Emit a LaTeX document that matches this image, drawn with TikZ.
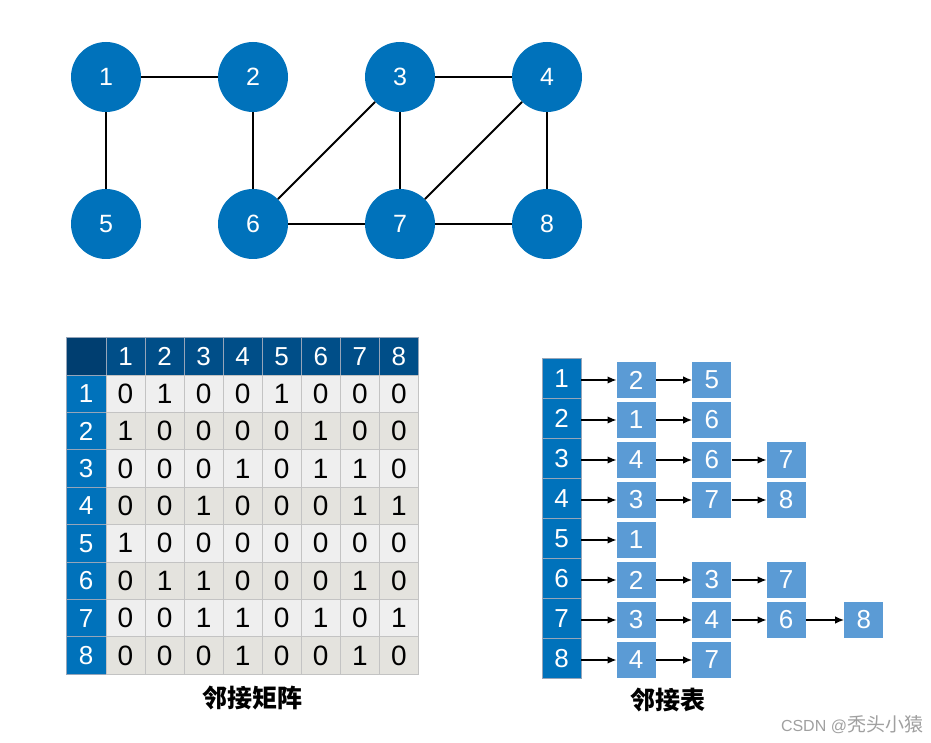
\documentclass[tikz,border=0pt]{standalone}
\usepackage{fontspec}
\setmainfont{Liberation Sans}
\newfontfamily\cjk{Noto Sans CJK SC}
\usetikzlibrary{arrows.meta}
\definecolor{nodeblue}{RGB}{0,114,187}
\definecolor{headblue}{RGB}{0,78,136}
\definecolor{cornerblue}{RGB}{0,62,112}
\definecolor{listblue}{RGB}{91,155,213}
\definecolor{rowa}{RGB}{239,239,239}
\definecolor{rowb}{RGB}{228,227,222}
\definecolor{gridgray}{RGB}{195,195,195}
\definecolor{sepgray}{RGB}{150,165,185}
\definecolor{wmgray}{RGB}{160,160,160}
\tikzset{
  gnode/.style={circle, fill=nodeblue, minimum size=70pt, inner sep=0pt, text=white, font=\fontsize{25}{25}\selectfont},
  gedge/.style={line width=1.9pt, black},
  cell/.style={rectangle, minimum width=39.05pt, minimum height=37.4pt, inner sep=0pt, draw=gridgray, line width=0.8pt, font=\fontsize{28}{28}\selectfont},
  colhead/.style={rectangle, minimum width=39.05pt, minimum height=37.5pt, inner sep=0pt, fill=headblue, draw=sepgray, line width=0.8pt, text=white, font=\fontsize{26}{26}\selectfont},
  rowhead/.style={rectangle, minimum width=40pt, minimum height=37.4pt, inner sep=0pt, fill=nodeblue, draw=sepgray, line width=0.8pt, text=white, font=\fontsize{26}{26}\selectfont},
  lhead/.style={rectangle, minimum width=38.7pt, minimum height=40pt, inner sep=0pt, fill=nodeblue, draw=sepgray, line width=0.8pt, text=white, font=\fontsize{26}{26}\selectfont},
  lbox/.style={rectangle, minimum width=39pt, minimum height=36pt, inner sep=0pt, fill=listblue, text=white, font=\fontsize{26}{26}\selectfont},
  larrow/.style={-{Latex[length=9pt,width=7.5pt]}, line width=1.4pt, black},
  caption/.style={font=\cjk\bfseries\fontsize{25}{25}\selectfont},
}
\begin{document}
\begin{tikzpicture}[x=1pt,y=-1pt]
\useasboundingbox (0,0) rectangle (931,743);
\fill[white] (0,0) rectangle (931,743);
% ---------- graph ----------
\node[gnode] (g1) at (106,77) {1};
\node[gnode] (g2) at (253,77) {2};
\node[gnode] (g3) at (400,77) {3};
\node[gnode] (g4) at (547,77) {4};
\node[gnode] (g5) at (106,224) {5};
\node[gnode] (g6) at (253,224) {6};
\node[gnode] (g7) at (400,224) {7};
\node[gnode] (g8) at (547,224) {8};
\draw[gedge] (g1) -- (g2);
\draw[gedge] (g1) -- (g5);
\draw[gedge] (g2) -- (g6);
\draw[gedge] (g3) -- (g4);
\draw[gedge] (g3) -- (g6);
\draw[gedge] (g3) -- (g7);
\draw[gedge] (g4) -- (g7);
\draw[gedge] (g4) -- (g8);
\draw[gedge] (g6) -- (g7);
\draw[gedge] (g7) -- (g8);
% ---------- adjacency matrix ----------
\node[rectangle, minimum width=40pt, minimum height=37.5pt, inner sep=0pt, fill=cornerblue, draw=sepgray, line width=0.8pt] (corner) at (86,356.25) {};
\foreach \c in {1,...,8} {
  \node[colhead] (h-\c) at ({106+39.05*(\c-0.5)},356.25) {\c};
}
\foreach \r in {1,...,8} {
  \node[rowhead] (r-\r) at (86,{375+37.4*(\r-0.5)}) {\r};
}
\foreach \row [count=\r] in {{0,1,0,0,1,0,0,0},{1,0,0,0,0,1,0,0},{0,0,0,1,0,1,1,0},{0,0,1,0,0,0,1,1},{1,0,0,0,0,0,0,0},{0,1,1,0,0,0,1,0},{0,0,1,1,0,1,0,1},{0,0,0,1,0,0,1,0}} {
  \ifodd\r\relax\def\rc{rowa}\else\def\rc{rowb}\fi
  \foreach \v [count=\c] in \row {
    \node[cell, fill=\rc] (m-\r-\c) at ({106+39.05*(\c-0.5)},{375+37.4*(\r-0.5)}) {\v};
  }
}
\node[caption] (cap1) at (252,698) {邻接矩阵};
% ---------- adjacency list ----------
\foreach \i in {1,...,8} {
  \node[lhead] (l-\i) at (561.7,{378.3+40*(\i-1)}) {\i};
}
\foreach \lst [count=\i] in {{2,5},{1,6},{4,6,7},{3,7,8},{1},{2,3,7},{3,4,6,8},{4,7}} {
  \foreach \v [count=\j] in \lst {
    \pgfmathsetmacro\bx{{636.2,711.8,786.2,863.8}[\j-1]}
    \node[lbox] (b-\i-\j) at (\bx,{380+40*(\i-1)}) {\v};
    \ifnum\j=1
      \draw[larrow] (l-\i.east |- b-\i-\j.west) -- (b-\i-\j.west);
    \else
      \pgfmathtruncatemacro\pj{\j-1}
      \draw[larrow] (b-\i-\pj.east) -- (b-\i-\j.west);
    \fi
  }
}
\node[caption] (cap2) at (668,700) {邻接表};
% ---------- watermark ----------
\node[text=wmgray, inner sep=0pt, anchor=base] (wm) at (852,731) {\fontsize{16}{16}\selectfont CSDN @{\cjk\fontsize{19}{19}\selectfont 秃头小猿}};
\end{tikzpicture}
\end{document}
